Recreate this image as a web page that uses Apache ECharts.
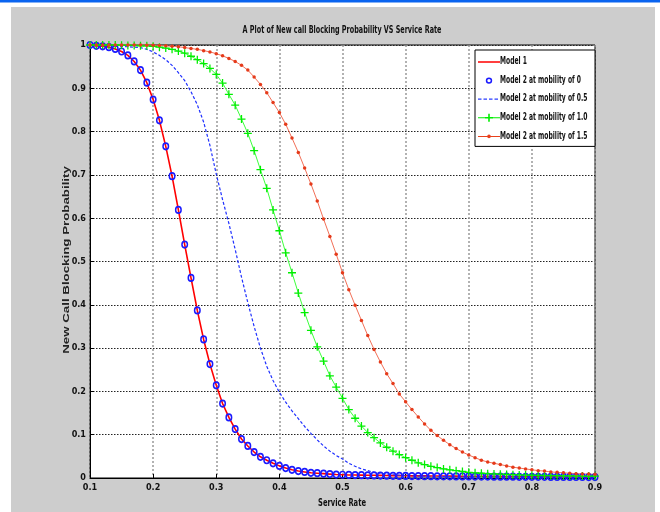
<!DOCTYPE html>
<html>
<head>
<meta charset="utf-8">
<script src="https://cdn.jsdelivr.net/npm/echarts@6/dist/echarts.min.js"></script>
<style>
html,body{margin:0;padding:0;background:#fff;}
#chart{width:660px;height:512px;}
</style>
</head>
<body>
<div id="chart"></div>
<script>
const chartTitle = 'A Plot of New call Blocking Probability VS Service Rate';
const xName = 'Service Rate';
const yName = 'New Call Blocking Probability';
const seriesNames = ['Model 1', 'Model 2 at mobility of 0', 'Model 2 at mobility of 0.5', 'Model 2 at mobility of 1.0', 'Model 2 at mobility of 1.5'];

const serviceRate = [
  0.10,0.11,0.12,0.13,0.14,0.15,0.16,0.17,0.18,0.19,
  0.20,0.21,0.22,0.23,0.24,0.25,0.26,0.27,0.28,0.29,
  0.30,0.31,0.32,0.33,0.34,0.35,0.36,0.37,0.38,0.39,
  0.40,0.41,0.42,0.43,0.44,0.45,0.46,0.47,0.48,0.49,
  0.50,0.51,0.52,0.53,0.54,0.55,0.56,0.57,0.58,0.59,
  0.60,0.61,0.62,0.63,0.64,0.65,0.66,0.67,0.68,0.69,
  0.70,0.71,0.72,0.73,0.74,0.75,0.76,0.77,0.78,0.79,
  0.80,0.81,0.82,0.83,0.84,0.85,0.86,0.87,0.88,0.89,
  0.90
];

const model1 = [
  1.000,0.998,0.997,0.995,0.991,0.985,0.976,0.962,0.942,0.913,
  0.874,0.826,0.766,0.697,0.619,0.539,0.462,0.387,0.320,0.263,
  0.214,0.172,0.140,0.113,0.090,0.074,0.060,0.049,0.041,0.034,
  0.028,0.023,0.019,0.016,0.014,0.012,0.011,0.010,0.009,0.008,
  0.0075,0.0070,0.0068,0.0066,0.0064,0.0062,0.0060,0.0058,0.0056,0.0054,
  0.0052,0.0050,0.0049,0.0048,0.0047,0.0046,0.0045,0.0044,0.0043,0.0042,
  0.0041,0.0040,0.0039,0.0038,0.0038,0.0037,0.0036,0.0036,0.0035,0.0034,
  0.0034,0.0033,0.0033,0.0032,0.0032,0.0031,0.0031,0.0030,0.0030,0.0030,
  0.0029
];

const mobility0 = [
  1.000,0.998,0.997,0.995,0.991,0.985,0.976,0.962,0.942,0.913,
  0.874,0.826,0.766,0.697,0.619,0.539,0.462,0.387,0.320,0.263,
  0.214,0.172,0.140,0.113,0.090,0.074,0.060,0.049,0.041,0.034,
  0.028,0.023,0.019,0.016,0.014,0.012,0.011,0.010,0.009,0.008,
  0.0075,0.0070,0.0067,0.0064,0.0061,0.0058,0.0055,0.0053,0.0051,0.0049,
  0.0047,0.0045,0.0044,0.0042,0.0041,0.0040,0.0039,0.0038,0.0037,0.0036,
  0.0035,0.0034,0.0033,0.0032,0.0031,0.0030,0.0030,0.0029,0.0028,0.0028,
  0.0027,0.0026,0.0026,0.0025,0.0025,0.0024,0.0024,0.0023,0.0023,0.0022,
  0.0022
];

const mobility05 = [
  1.000,1.000,0.999,0.999,0.998,0.997,0.996,0.995,0.994,0.990,
  0.984,0.976,0.966,0.953,0.936,0.918,0.892,0.862,0.822,0.768,
  0.702,0.643,0.588,0.528,0.464,0.405,0.350,0.300,0.258,0.225,
  0.198,0.175,0.155,0.137,0.119,0.103,0.088,0.074,0.062,0.052,
  0.044,0.034,0.027,0.021,0.017,0.013,0.011,0.009,0.0075,0.0065,
  0.0057,0.0050,0.0045,0.0041,0.0038,0.0035,0.0033,0.0031,0.0030,0.0029,
  0.0028,0.0027,0.0026,0.0026,0.0025,0.0025,0.0024,0.0024,0.0023,0.0023,
  0.0022,0.0022,0.0022,0.0021,0.0021,0.0021,0.0020,0.0020,0.0020,0.0020,
  0.0020
];

const mobility10 = [
  1.000,1.000,1.000,1.000,1.000,0.9995,0.999,0.999,0.998,0.998,
  0.997,0.995,0.993,0.990,0.986,0.981,0.974,0.966,0.957,0.946,
  0.932,0.912,0.886,0.861,0.829,0.796,0.756,0.712,0.669,0.619,
  0.571,0.520,0.474,0.427,0.382,0.341,0.303,0.270,0.236,0.210,
  0.184,0.158,0.138,0.120,0.105,0.093,0.081,0.071,0.062,0.054,
  0.047,0.041,0.035,0.031,0.027,0.024,0.021,0.019,0.017,0.015,
  0.013,0.012,0.011,0.010,0.0093,0.0087,0.0081,0.0076,0.0072,0.0068,
  0.0064,0.0061,0.0058,0.0055,0.0053,0.0051,0.0049,0.0047,0.0045,0.0044,
  0.0042
];

const mobility15 = [
  1.000,1.000,1.000,1.000,1.000,1.000,1.000,1.000,0.9998,0.9997,
  0.9995,0.999,0.998,0.997,0.996,0.994,0.992,0.990,0.987,0.984,
  0.980,0.975,0.969,0.962,0.953,0.942,0.926,0.909,0.890,0.867,
  0.844,0.817,0.785,0.752,0.716,0.679,0.640,0.598,0.558,0.517,
  0.474,0.435,0.399,0.364,0.329,0.297,0.268,0.241,0.218,0.194,
  0.176,0.158,0.141,0.125,0.110,0.098,0.087,0.077,0.068,0.060,
  0.053,0.047,0.041,0.037,0.034,0.031,0.028,0.025,0.023,0.021,
  0.019,0.017,0.016,0.014,0.013,0.012,0.011,0.010,0.0095,0.009,
  0.0085
];

const pairs = arr => serviceRate.map((x, i) => [x, arr[i]]);
const cond = "'DejaVu Sans Condensed','DejaVu Sans',sans-serif";
const plusPath = 'path://M0,4.2H10V5.8H0Z M4.2,0H5.8V10H4.2Z';

// legend icons (22 x 10 box, tiny corner anchors keep the box size)
const A0 = 'M0,0L0.01,0L0,0.01Z ', A1 = ' M22,10L21.99,10L22,9.99Z';
const iconLine = 'path://' + A0 + 'M0,4.3H22V5.7H0Z' + A1;
const iconRing = 'path://' + A0 + 'M11,1.8A3.2,3.2 0 1,1 10.99,1.8Z M11,3.3A1.7,1.7 0 1,0 11.01,3.3Z' + A1;
const iconDash = 'path://' + A0 + 'M0,4.4H3.5V5.6H0Z M5.5,4.4H9V5.6H5.5Z M11,4.4H14.5V5.6H11Z M16.5,4.4H20V5.6H16.5Z' + A1;
const iconPlus = 'path://' + A0 + 'M0,4.5H22V5.5H0Z M10.2,1H11.8V9H10.2Z M7,4.2H15V5.8H7Z' + A1;
const iconDot = 'path://' + A0 + 'M0,4.5H22V5.5H0Z M11,3.2A1.8,1.8 0 1,1 10.99,3.2Z' + A1;

const legendTop = 50, legendRow = 18.6;
const legendTexts = seriesNames.map((n, i) => ({
  type: 'text', z: 20, x: 500, y: legendTop + 11.7 + legendRow * i, scaleX: 0.67,
  style: {text: n, fill: '#111', font: 'bold 10px ' + cond, textAlign: 'left', textVerticalAlign: 'middle'}
}));

const chart = echarts.init(document.getElementById('chart'), null, {renderer: 'canvas'});
chart.setOption({
  animation: false,
  backgroundColor: '#ffffff',
  graphic: [
    {type: 'rect', z: -10, shape: {x: 11, y: 7, width: 644, height: 505}, style: {fill: '#cdcdcd'}},
    {type: 'rect', z: -10, shape: {x: 0, y: 0, width: 660, height: 2.5}, style: {fill: '#0a64f0'}},
    {type: 'text', z: 10, x: 342, y: 30, scaleX: 0.65, style: {text: chartTitle, fill: '#111', font: 'bold 11px ' + cond, textAlign: 'center', textVerticalAlign: 'middle'}},
    {type: 'text', z: 10, x: 342, y: 503, scaleX: 0.75, style: {text: xName, fill: '#111', font: 'bold 10px ' + cond, textAlign: 'center', textVerticalAlign: 'middle'}},
    {type: 'text', z: 10, x: 66, y: 260, rotation: Math.PI / 2, scaleX: 1.4, style: {text: yName, fill: '#222', font: "bold 9.5px 'Liberation Sans',Arial,sans-serif", textAlign: 'center', textVerticalAlign: 'middle'}}
  ].concat(legendTexts),
  grid: {left: 90, right: 65, top: 45, bottom: 34, show: true, backgroundColor: '#ffffff', borderColor: '#000', borderWidth: 1},
  legend: {
    orient: 'vertical', left: 475, top: legendTop,
    padding: [7, 95, 5, 3], itemGap: 8.6, itemWidth: 22, itemHeight: 10,
    backgroundColor: '#fff', borderColor: '#000', borderWidth: 1,
    formatter: () => '',
    textStyle: {fontSize: 10},
    data: [
      {name: seriesNames[0], icon: iconLine, itemStyle: {color: '#ff0000', borderWidth: 0}},
      {name: seriesNames[1], icon: iconRing, itemStyle: {color: '#1a1aff', borderWidth: 0}},
      {name: seriesNames[2], icon: iconDash, itemStyle: {color: '#2a3cff', borderWidth: 0}},
      {name: seriesNames[3], icon: iconPlus, itemStyle: {color: '#00ee00', borderWidth: 0}},
      {name: seriesNames[4], icon: iconDot, itemStyle: {color: '#e8401c', borderWidth: 0}}
    ]
  },
  xAxis: {
    type: 'value', min: 0.1, max: 0.9, interval: 0.1,
    axisLine: {lineStyle: {color: '#000'}},
    axisTick: {inside: true, length: 4, lineStyle: {color: '#000'}},
    axisLabel: {margin: 5, fontFamily: cond, fontWeight: 'bold', fontSize: 9, color: '#111'},
    splitLine: {show: true, lineStyle: {color: '#999', width: 1.5, type: [2, 2]}}
  },
  yAxis: {
    type: 'value', min: 0, max: 1, interval: 0.1,
    axisLine: {show: true, lineStyle: {color: '#000'}},
    axisTick: {show: true, inside: true, length: 4, lineStyle: {color: '#000'}},
    axisLabel: {margin: 4, fontFamily: cond, fontWeight: 'bold', fontSize: 9, color: '#111'},
    splitLine: {show: true, lineStyle: {color: '#222', width: 1, type: [1.5, 1.5]}}
  },
  series: [
    {name: seriesNames[0], type: 'line', data: pairs(model1), symbol: 'none', clip: false,
     lineStyle: {color: '#ff0000', width: 1.6}, itemStyle: {color: '#ff0000'}},
    {name: seriesNames[1], type: 'line', data: pairs(mobility0), symbol: 'circle', symbolSize: [5.5, 6.5], clip: false,
     lineStyle: {width: 0, opacity: 0},
     itemStyle: {color: 'rgba(0,0,0,0)', borderColor: '#1a1aff', borderWidth: 1.6}},
    {name: seriesNames[2], type: 'line', data: pairs(mobility05), symbol: 'none', clip: false,
     lineStyle: {color: '#1f30ff', width: 1.2, type: [3, 2]}, itemStyle: {color: '#1f30ff'}},
    {name: seriesNames[3], type: 'line', data: pairs(mobility10), symbol: plusPath, symbolSize: 8, clip: false,
     lineStyle: {color: '#3cff3c', width: 1}, itemStyle: {color: '#00ee00'}},
    {name: seriesNames[4], type: 'line', data: pairs(mobility15), symbol: 'circle', symbolSize: 3.5, clip: false,
     lineStyle: {color: '#f27058', width: 1}, itemStyle: {color: '#e53a1a'}}
  ]
});
</script>
</body>
</html>
